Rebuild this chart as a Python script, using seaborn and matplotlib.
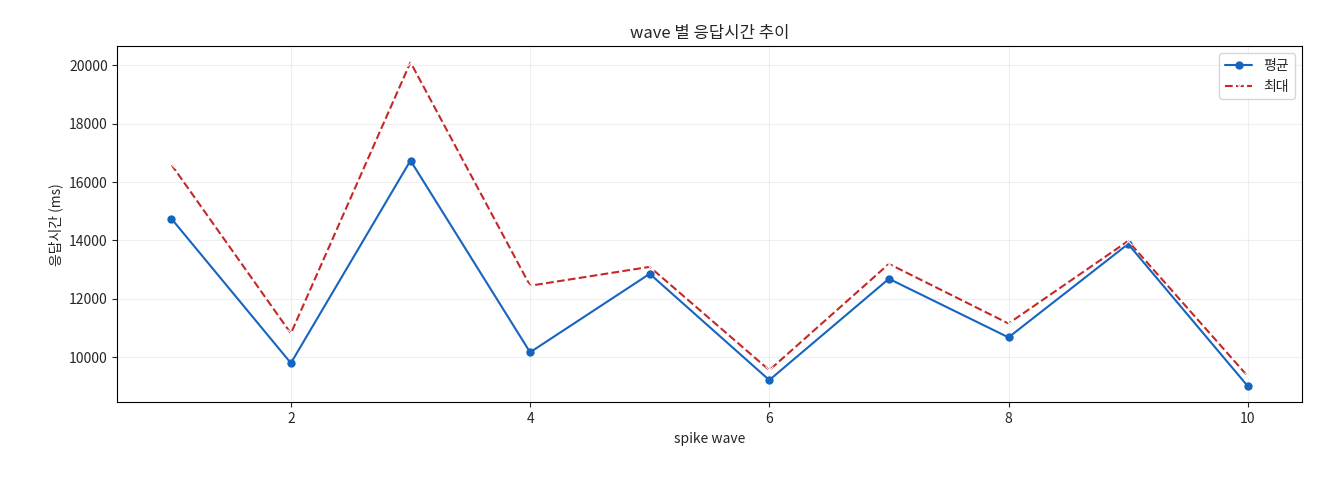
import matplotlib
matplotlib.use("Agg")
import matplotlib.pyplot as plt
import seaborn as sns
import pandas as pd

waves = [1, 2, 3, 4, 5, 6, 7, 8, 9, 10]
avg_ms = [14750, 9800, 16735, 10170, 12857, 9218, 12687, 10680, 13878, 9014]
max_ms = [16600, 10816, 20100, 12450, 13095, 9558, 13197, 11156, 13980, 9354]

sns.set_style("white")
plt.rcParams['font.family'] = ['Noto Sans CJK KR', 'DejaVu Sans']
plt.rcParams['axes.unicode_minus'] = False

fig, ax = plt.subplots(figsize=(13.2, 4.8), dpi=100)
df = pd.DataFrame({"wave": waves, "avg": avg_ms, "max": max_ms})
sns.lineplot(data=df, x="wave", y="avg", ax=ax, color="#1565c0", marker="o",
             markersize=6, markeredgewidth=0, label="평균", linewidth=1.5)
sns.lineplot(data=df, x="wave", y="max", ax=ax, color="#c62828", marker="x",
             markersize=6, linestyle="--", label="최대", linewidth=1.5)
ax.set_title("wave 별 응답시간 추이")
ax.set_xlabel("spike wave")
ax.set_ylabel("응답시간 (ms)")
ax.grid(True, alpha=0.3)
for s in ax.spines.values():
    s.set_edgecolor("black"); s.set_linewidth(0.8)
ax.tick_params(left=True, bottom=True, length=3.5)
ax.legend(loc="upper right")
fig.subplots_adjust(left=0.089, right=0.986, top=0.904, bottom=0.162)
fig.savefig("out.png")
